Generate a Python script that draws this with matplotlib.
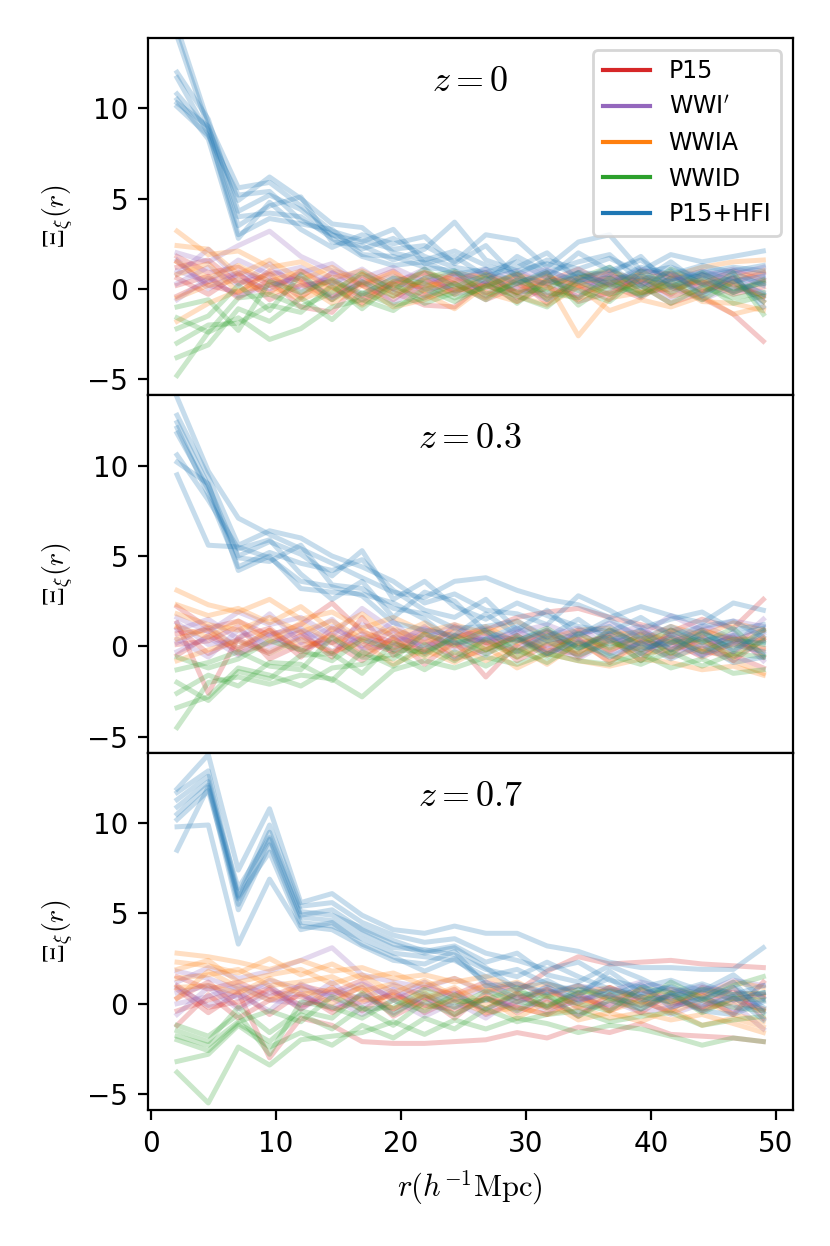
import matplotlib
matplotlib.use("Agg")
from matplotlib import pyplot as plt
from matplotlib.lines import Line2D

plt.rcParams['mathtext.fontset'] = 'cm'

# separation bins (h^-1 Mpc)
r_vals = [2.1, 4.6, 7.0, 9.5, 12.0, 14.5, 16.9, 19.4, 21.9, 24.3,
          26.8, 29.3, 31.7, 34.2, 36.7, 39.2, 41.6, 44.1, 46.6, 49.0]

models = ["P15", "WWI$'$", "WWIA", "WWID", "P15+HFI"]
colors = ["tab:red", "tab:purple", "tab:orange", "tab:green", "tab:blue"]
redshift_labels = ["$z=0$", "$z=0.3$", "$z=0.7$"]

# ---- z = 0 ----
p15_z0 = [
    [1.8, 0.9, 1.2, 0.2, 0.6, -0.4, 0.3, 1.0, -0.2, 0.5, 0.9, -0.3, 0.4, 1.1, 0.2, -0.5, 0.6, 0.3, 1.0, 0.5],
    [1.2, 1.6, 0.3, 0.8, -0.5, 0.9, 0.2, -0.6, 0.6, -0.1, 0.2, 0.8, -0.4, 0.1, 0.7, 0.4, -0.3, 0.8, 0.2, -0.4],
    [0.6, -0.3, 0.8, -0.2, 1.0, 0.1, -0.8, 0.4, 0.9, 0.3, -0.6, 0.1, 0.9, -0.7, -0.2, 0.5, 0.2, -0.5, -1.4, -2.9],
    [0.2, 0.7, -0.5, 0.5, -1.0, -1.3, 0.5, -0.2, -0.9, -1.0, 0.4, -0.2, 0.6, 0.2, -0.6, 1.0, 0.8, -0.1, 0.4, 0.9],
    [-0.4, 0.4, 0.9, -0.6, 0.2, 0.4, -0.4, 0.3, 0.1, 0.8, -0.2, 0.5, -0.8, 0.6, 0.9, -0.2, 0.0, 0.4, -0.3, 0.1],
    [1.5, 0.2, -0.2, 1.0, 0.4, -0.6, 0.8, 0.0, -0.5, 0.0, 0.3, -0.7, 0.1, -0.4, 0.4, 0.2, -0.8, -0.2, 0.6, -0.7],
]
wwi_z0 = [
    [2.0, 1.5, 2.4, 3.2, 1.8, 1.0, 0.6, 1.2, 0.4, 0.9, 0.2, 0.7, 1.1, 0.3, 0.6, 0.1, 0.5, 1.0, 0.6, 0.3],
    [1.0, 0.4, 1.6, 0.8, 1.2, 0.3, 1.1, 0.0, 0.8, -0.2, 0.5, 1.0, 0.2, 0.7, -0.3, 0.8, 0.2, 0.4, -0.1, 0.6],
    [0.3, 1.2, 0.2, 1.4, -0.2, 0.9, -0.3, 0.6, -0.4, 0.4, 1.1, -0.5, 0.5, -0.1, 0.4, -0.4, 0.9, -0.2, 0.3, -0.2],
    [-0.6, 0.6, -0.4, 0.2, 0.7, -0.5, 0.4, -0.8, 0.3, 0.7, -0.4, 0.3, -0.6, 0.5, 0.1, 0.6, -0.5, 0.2, 0.8, 1.2],
    [1.6, 0.0, 0.9, 0.5, 0.1, 0.6, -0.6, 0.3, 1.1, -0.3, 0.1, 0.4, 0.8, -0.5, 1.0, 0.3, 0.1, -0.6, 0.1, -0.5],
    [0.8, 2.2, 0.5, 0.0, 0.9, 1.4, 0.2, 0.7, 0.0, 0.2, 0.7, 0.0, -0.3, 0.9, 0.2, 1.1, 0.6, 0.7, 1.1, 0.8],
]
wwia_z0 = [
    [3.2, 1.9, 2.1, 1.2, 1.5, 0.6, 1.0, 0.2, 0.9, 0.5, 0.1, 0.8, 0.3, 0.6, 1.0, 0.4, 0.7, 1.2, 1.5, 1.6],
    [2.4, 2.2, 0.8, 1.6, 0.5, 1.2, 0.2, 0.9, -0.1, 0.9, 0.6, -0.2, 0.7, 0.2, -0.3, 0.5, 0.9, 0.2, 0.6, 1.0],
    [1.5, 0.6, 1.3, 0.4, 1.0, -0.1, 0.8, -0.4, 0.5, -0.3, 0.8, 0.3, -0.5, 0.4, 0.6, -0.2, 0.1, 0.5, -0.2, 0.4],
    [0.8, 1.4, -0.2, 0.9, -0.4, 0.5, -0.6, 0.4, 0.2, 0.3, -0.5, 0.6, 0.1, -0.6, 0.3, 0.8, -0.4, -0.1, 0.3, -0.4],
    [-0.5, 0.2, 0.5, -0.3, 0.3, -0.8, 0.2, -1.0, -0.6, 0.0, -0.2, -0.7, 0.4, -2.6, -0.5, -0.2, 0.4, -0.7, -0.8, -1.2],
    [-1.8, -0.8, -0.1, 0.2, -0.6, 0.1, -0.9, 0.1, -0.3, -1.1, 0.2, -0.4, -0.9, 0.1, -1.2, -0.6, -1.0, -0.4, -1.4, -1.0],
]
wwid_z0 = [
    [-4.8, -2.4, -1.6, -2.8, -2.2, -1.0, -0.6, -1.2, 0.0, -0.7, 0.2, -0.4, -1.0, 0.4, -0.3, 0.2, -0.8, 0.1, -0.5, -0.2],
    [-3.8, -3.1, -1.1, -1.8, -0.5, -1.7, -0.2, -0.9, -0.5, 0.3, -0.6, 0.5, -0.2, -0.5, 0.6, -0.4, 0.3, -0.6, 0.4, -0.7],
    [-3.0, -2.0, -1.9, -0.9, -1.3, 0.2, -1.1, 0.3, -0.8, -0.2, 0.6, -0.8, 0.5, -0.1, -0.7, 0.7, -0.2, 0.6, -0.2, 0.5],
    [-2.2, -1.5, 0.2, -1.2, 0.8, -0.6, 0.4, -0.4, 0.6, 1.0, -0.3, 0.3, 0.9, -0.9, 0.3, -0.3, 0.6, -0.3, 0.9, -1.4],
    [-1.6, -2.4, -0.5, -0.3, -1.0, -0.2, 0.9, -0.1, 1.1, 0.1, 0.8, -0.2, 0.0, 0.9, 0.0, 1.0, 0.1, 0.9, 0.0, 0.3],
    [-1.0, -0.6, -2.3, 0.4, -0.2, 0.5, -0.3, 0.6, 0.3, -0.5, 0.1, 0.9, -0.6, 0.6, 1.2, -0.1, 1.1, 0.3, -0.8, -0.4],
]
hfi_z0 = [
    [14.5, 9.2, 5.6, 5.9, 4.6, 3.2, 2.7, 2.2, 2.4, 1.5, 3.0, 2.7, 1.2, 2.6, 3.0, 1.0, 1.9, 1.5, 1.8, 2.1],
    [14.0, 8.9, 4.9, 6.2, 5.0, 3.6, 3.4, 2.0, 1.6, 2.1, 1.3, 0.8, 1.6, 1.1, 1.7, 0.9, 1.2, 0.6, 1.0, 1.3],
    [12.0, 9.4, 4.3, 5.2, 4.4, 3.0, 2.2, 2.8, 1.8, 1.2, 0.9, 1.5, 0.6, 2.0, 1.0, 1.6, 0.5, 1.0, 0.4, 0.7],
    [11.7, 8.6, 3.5, 4.6, 5.1, 2.6, 2.4, 1.6, 2.2, 3.7, 1.6, 1.0, 1.4, 0.8, 0.3, 1.2, 0.8, 1.3, 0.9, 0.2],
    [10.8, 8.8, 3.0, 3.9, 3.6, 3.3, 1.9, 1.8, 1.2, 1.0, 0.4, 1.8, 0.9, 1.5, 1.9, 0.4, 1.5, 0.2, 0.6, -0.3],
    [10.5, 8.3, 2.8, 4.8, 3.3, 2.3, 3.0, 2.5, 2.9, 1.4, 2.4, 0.6, 0.3, 0.9, 0.8, 1.8, 0.1, 0.8, -0.2, 0.4],
    [10.3, 9.0, 4.0, 4.2, 4.0, 2.8, 1.8, 1.3, 1.5, 0.8, 1.1, 0.3, 1.0, 0.4, 1.2, 0.2, 1.0, -0.4, 0.7, -1.0],
    [10.1, 8.5, 5.2, 5.4, 3.8, 3.0, 2.6, 3.3, 1.4, 1.8, 0.7, 1.2, 2.0, 0.5, 0.6, 0.7, 0.4, 0.9, 1.2, 1.0],
]

# ---- z = 0.3 ----
p15_z03 = [
    [2.2, 1.0, 1.4, 0.6, 1.2, 2.4, 0.8, 0.2, 1.0, 0.5, 0.9, 1.6, 1.9, 2.1, 1.6, 1.2, 0.8, 1.5, 1.0, 2.6],
    [1.3, -2.6, 0.5, 1.0, -0.3, 0.7, -0.2, 0.9, -0.4, 0.6, 0.2, -0.3, 0.5, 0.0, 0.6, -0.2, 0.3, -0.6, 0.2, -0.1],
    [0.7, 0.9, -0.4, 0.2, 0.8, -0.6, 1.6, -0.5, 0.4, -0.7, -0.2, 0.6, -0.5, 0.8, -0.3, 0.7, -0.4, 0.6, -0.8, 0.4],
    [0.1, 0.3, 1.1, -0.7, 0.1, 0.2, -0.8, 0.5, -1.0, 0.3, -1.7, 0.1, 0.9, -0.6, 0.4, -0.8, 0.9, 0.0, 0.5, -0.6],
    [-0.5, 0.6, -0.2, 0.9, -0.6, 1.0, 0.3, -0.3, 0.7, 0.0, 0.8, -0.8, 0.1, 0.4, -0.9, 0.3, -0.1, 0.9, 0.3, 0.9],
    [1.0, -0.4, 0.4, -0.3, 0.6, -0.4, 0.5, 0.1, -0.2, 1.1, 0.2, 0.4, -0.2, -0.4, 0.9, 0.1, 0.5, -0.3, -0.5, -1.2],
]
wwi_z03 = [
    [1.6, 0.8, 1.9, 1.2, 1.6, 0.6, 2.1, 0.9, 0.4, 1.2, 0.3, 0.8, 1.2, 0.5, 1.3, 0.6, 1.7, 0.9, 1.4, 1.1],
    [0.9, 1.5, 0.4, 1.8, 0.2, 1.1, 0.0, 1.4, -0.3, 0.5, 1.0, -0.1, 0.6, 1.0, 0.0, 0.9, 0.2, 1.2, 0.4, 0.3],
    [0.4, -0.6, 0.9, 0.0, 1.0, -0.3, 0.7, -0.2, 0.8, -0.6, 0.5, 0.4, -0.4, 0.2, 0.5, -0.5, 0.7, -0.2, 0.6, -0.4],
    [-0.3, 0.5, -0.5, 0.6, -0.2, 0.4, -0.5, 0.5, 0.1, 0.2, -0.5, 0.8, 0.1, -0.7, 0.3, 0.4, -0.6, 0.5, -0.3, 0.7],
    [1.3, 0.1, 0.3, -0.4, 0.5, 1.5, -0.1, 0.0, 1.1, -0.2, 0.6, -0.3, 0.8, 0.4, -0.4, 0.2, 0.1, -0.5, 0.8, -0.8],
    [0.2, 1.1, -0.1, 0.7, 0.9, 0.2, 1.2, 0.6, 0.0, 0.8, 0.1, 1.0, -0.2, 0.9, 0.7, 1.1, -0.2, 0.4, 0.0, 1.5],
]
wwia_z03 = [
    [3.1, 2.3, 1.9, 2.6, 1.5, 1.9, 1.0, 1.6, 0.8, 1.2, 0.7, 1.4, 0.4, 0.9, 1.0, 0.3, 1.1, 0.6, 1.3, 0.9],
    [2.3, 1.7, 2.1, 1.3, 2.2, 0.9, 1.8, 0.5, 1.3, 0.4, 1.1, 0.2, 0.8, 0.1, 0.6, 0.8, 0.2, 0.9, 0.4, 0.4],
    [1.8, 1.2, 0.9, 1.6, 0.8, 1.4, 0.4, 1.0, 0.2, 0.9, -0.2, 0.6, -0.3, 0.5, -0.2, 0.4, 0.6, -0.3, 0.1, -0.2],
    [1.1, 0.5, 1.4, 0.3, 1.3, 0.2, 0.9, -0.1, 0.7, -0.5, 0.3, -0.6, 0.2, -0.3, 0.3, -0.4, -0.2, 0.3, -0.5, 0.5],
    [0.4, 1.0, -0.1, 0.9, -0.2, 0.6, -0.5, 0.4, -0.6, 0.1, -0.8, 0.0, -1.0, 0.2, -0.8, 0.0, -0.6, -0.1, -0.8, -1.5],
    [-0.8, -0.2, 0.3, -0.4, 0.4, -0.3, 0.2, -1.0, -0.2, -0.9, 0.0, -1.2, -0.4, -0.8, -1.1, -0.7, -0.9, -1.3, -1.1, -1.6],
]
wwid_z03 = [
    [-4.5, -2.0, -1.7, -2.1, -1.6, -1.8, -2.8, -1.3, -0.8, -1.2, -0.6, -1.0, -0.4, -0.8, -1.0, -0.4, -1.2, -0.7, -1.5, -1.3],
    [-3.4, -2.8, -1.2, -1.6, -2.2, -1.2, -1.0, -0.4, -1.3, -0.3, -1.1, -0.2, -0.9, 0.2, -0.5, -1.0, -0.3, -1.1, -0.4, -0.6],
    [-2.6, -1.6, -2.2, -0.9, -1.0, -1.9, -0.3, -1.1, 0.1, -0.8, 0.4, -0.6, 0.3, -0.5, 0.2, -0.2, 0.4, -0.3, 0.4, 0.1],
    [-2.0, -3.0, -1.4, -1.8, -0.5, -0.4, -1.5, 0.2, -0.5, 0.6, -0.2, 0.5, -0.6, 0.7, -0.1, 0.6, -0.4, 0.8, -0.2, 0.9],
    [-1.3, -0.9, -0.3, -1.1, -1.3, 0.5, -0.6, -0.7, 0.7, 0.1, 0.9, -0.3, 0.6, -0.2, 0.9, 0.1, 0.9, 0.2, 1.0, -0.5],
    [-0.6, -1.2, -0.7, 0.3, -0.2, -0.8, 0.4, -0.2, -0.3, 0.4, -0.4, 0.3, 1.0, -0.1, 0.5, -0.8, 0.2, 0.4, -0.6, 0.3],
]
hfi_z03 = [
    [13.8, 9.7, 7.1, 6.2, 5.4, 4.6, 3.8, 3.0, 2.7, 3.6, 3.8, 3.1, 2.6, 2.3, 1.6, 2.2, 1.7, 1.3, 2.4, 2.0],
    [12.8, 9.4, 5.6, 6.4, 6.0, 5.0, 4.4, 3.6, 2.4, 2.9, 2.0, 1.8, 1.2, 2.8, 2.0, 1.0, 1.5, 1.9, 0.9, 1.2],
    [12.4, 8.9, 5.0, 5.8, 5.1, 3.9, 5.3, 2.6, 3.6, 2.2, 1.5, 2.4, 1.7, 1.1, 0.8, 1.6, 0.6, 1.1, 1.4, 0.5],
    [12.1, 8.4, 4.4, 5.2, 4.6, 4.2, 4.8, 3.1, 2.0, 1.6, 2.6, 0.9, 2.0, 0.6, 1.5, 0.4, 1.1, 0.3, 0.6, 1.0],
    [11.8, 8.7, 4.9, 4.7, 5.6, 3.4, 3.2, 2.1, 1.8, 1.0, 1.1, 1.4, 0.5, 1.5, 0.3, 0.9, -0.2, 0.7, 0.1, -0.3],
    [10.6, 8.1, 5.4, 5.9, 4.0, 2.6, 3.6, 1.6, 3.0, 2.5, 0.8, 0.3, 0.9, -0.1, 0.7, -0.4, 0.6, -0.5, 0.3, 0.2],
    [9.5, 5.6, 5.5, 4.9, 3.6, 3.3, 2.8, 1.3, 0.9, 0.6, 1.8, 0.6, -0.4, 0.3, -0.6, 0.2, -0.7, 0.1, -0.9, -0.6],
    [10.2, 9.0, 4.2, 5.0, 3.2, 3.0, 2.9, 2.4, 1.5, 0.2, 0.4, 1.1, 0.3, 0.7, 1.1, -0.1, 0.2, 0.9, -0.3, 0.8],
]

# ---- z = 0.7 ----
p15_z07 = [
    [1.5, 0.8, 1.2, 0.4, 1.0, 0.6, 1.3, 0.2, 0.9, 0.5, 1.2, 0.7, 1.8, 2.6, 2.2, 2.3, 2.4, 2.2, 2.1, 2.0],
    [0.8, -0.5, 0.6, -3.0, -0.8, -1.2, -2.1, -2.2, -2.2, -2.1, -2.0, -1.6, -1.9, -1.3, -1.6, -1.1, -1.7, -1.8, -1.9, -2.1],
    [0.3, 1.2, -0.2, 0.8, -0.3, 0.9, -0.4, 0.7, -0.5, 0.3, -0.3, 0.5, -0.2, 0.6, -0.4, 0.4, -0.1, 0.5, -0.6, 1.2],
    [-0.4, 0.2, 0.7, -0.6, 0.6, -0.5, 0.5, -0.3, 0.4, -0.8, 0.6, -0.5, 0.3, -0.7, 0.5, -0.5, 0.6, -0.4, 0.3, -0.4],
    [1.0, -0.2, 0.1, 0.9, -0.1, 0.3, 0.9, -0.7, 0.2, 0.8, -0.6, 0.1, 0.8, 0.0, 0.9, 0.1, -0.4, 0.9, 0.6, 0.5],
    [-1.2, 0.5, -0.8, 0.2, 0.4, -0.3, 0.1, 0.5, -0.1, -0.3, 0.3, -0.2, -0.6, 0.3, -0.1, 0.8, 0.2, -0.2, 0.9, -0.8],
]
wwi_z07 = [
    [1.2, 2.0, 1.4, 1.8, 2.4, 3.1, 1.6, 1.2, 0.9, 1.4, 0.6, 1.1, 0.5, 1.0, 0.7, 1.2, 0.8, 0.6, 1.3, 1.0],
    [0.6, 1.0, 0.3, 1.3, 0.8, 0.5, 1.1, 0.3, 1.2, 0.2, 0.9, 0.1, 0.7, 0.3, 0.4, -0.1, 0.5, 1.0, 0.2, 0.6],
    [0.0, 0.4, 1.0, 0.2, 0.0, 1.2, -0.2, 0.8, -0.1, 0.6, -0.4, 0.6, -0.5, 0.5, -0.3, 0.6, 0.1, -0.3, 0.5, -0.3],
    [-0.6, 0.9, -0.3, 0.6, 0.5, -0.2, 0.5, -0.5, 0.4, -0.6, 0.3, -0.3, 0.2, -0.6, 0.2, -0.5, -0.2, 0.3, -0.5, 0.2],
    [0.9, -0.1, 0.5, -0.4, 1.1, 0.3, -0.6, 0.2, -0.7, 0.1, -0.8, 0.4, -0.2, 0.1, 0.9, 0.3, -0.6, 0.0, 0.0, -1.4],
    [1.8, 1.4, 0.8, 1.0, -0.3, 0.7, 0.3, 1.0, 0.5, -0.2, 0.2, -0.1, 1.0, -0.3, 0.0, 1.0, 0.3, 0.7, -0.3, 0.4],
]
wwia_z07 = [
    [2.8, 2.6, 2.3, 1.9, 2.4, 1.8, 2.0, 1.4, 1.6, 1.2, 1.5, 0.9, 1.1, 0.6, 0.9, 0.3, 0.8, 0.4, 1.2, 0.9],
    [2.3, 2.1, 1.7, 2.5, 1.6, 2.2, 1.4, 1.7, 1.0, 1.4, 0.7, 1.2, 0.4, 1.0, 0.2, 0.8, 0.0, 0.6, 0.3, 0.4],
    [1.9, 2.4, 1.2, 1.6, 1.9, 1.1, 1.6, 0.6, 1.3, 0.4, 1.0, 0.3, 0.8, -0.2, 0.5, -0.1, 0.4, -0.3, 0.1, -0.3],
    [1.4, 1.6, 1.9, 1.0, 1.2, 1.5, 0.7, 1.1, 0.3, 0.9, -0.1, 0.6, -0.3, 0.4, -0.4, 0.2, -0.5, 0.2, -0.6, -1.0],
    [0.9, 1.0, 0.6, 1.4, 0.5, 0.8, 0.2, 0.4, -0.2, 0.2, -0.5, -0.2, -0.6, -0.2, -0.8, -0.5, -0.9, -0.6, -1.1, -1.6],
    [0.3, 1.8, 0.9, 0.2, 0.9, 0.0, 1.0, -0.3, 0.6, -0.6, 0.4, -0.8, 0.1, -0.9, -0.5, -1.0, -0.3, -1.2, -0.8, -1.3],
]
wwid_z07 = [
    [-3.8, -5.5, -2.4, -3.4, -2.0, -1.8, -1.6, -1.0, -1.7, -0.9, -1.4, -0.8, -1.1, -1.6, -1.2, -1.4, -1.8, -2.3, -1.9, -2.1],
    [-3.2, -2.8, -1.2, -2.4, -1.6, -2.3, -1.2, -1.9, -0.8, -1.4, -0.3, -1.0, -0.6, -0.4, -1.0, -0.7, -0.5, -1.2, -0.9, -0.7],
    [-2.0, -2.6, -1.1, -2.1, -0.6, -1.4, -0.2, -1.2, 0.1, -0.6, 0.3, -0.4, 0.5, -0.7, 0.2, -0.3, 0.6, -0.5, 0.3, 0.2],
    [-1.5, -2.1, -0.2, -1.6, -0.4, -0.8, 0.6, -0.6, 0.5, -0.2, 0.7, 0.1, -0.1, 0.6, 0.7, 0.4, 0.1, 0.8, 0.5, 0.6],
    [-1.2, -1.8, -0.6, -2.8, 0.1, -0.2, -0.8, 0.2, -0.4, 0.5, -0.3, 0.6, 0.4, 0.0, -0.4, 0.9, 0.6, 0.2, 1.0, 1.5],
    [-1.8, -2.3, -1.0, -0.4, -1.0, 0.4, -0.3, -0.2, 0.8, 0.1, 0.2, 0.9, -0.2, 0.8, 0.3, 0.0, 1.2, 0.3, -0.2, -0.4],
]
hfi_z07 = [
    [11.9, 13.8, 7.4, 10.8, 5.6, 6.1, 4.9, 4.1, 3.9, 4.3, 3.9, 3.9, 3.2, 2.9, 2.3, 2.0, 2.0, 1.9, 1.9, 3.1],
    [11.7, 12.9, 6.0, 9.9, 5.4, 5.6, 4.5, 3.8, 3.4, 3.6, 2.8, 2.4, 1.9, 2.3, 1.3, 0.9, 1.3, 0.7, 1.6, 0.3],
    [11.3, 12.6, 5.8, 9.5, 5.1, 4.9, 4.2, 3.5, 2.9, 3.2, 2.3, 2.8, 1.6, 1.2, 2.1, 1.4, 0.6, 1.1, 0.5, 1.0],
    [10.9, 12.3, 5.5, 9.1, 4.8, 4.6, 3.9, 3.1, 3.0, 2.7, 1.9, 1.5, 2.3, 1.5, 0.8, 0.5, 1.0, 0.2, 0.9, -0.2],
    [10.5, 12.1, 5.2, 8.8, 4.5, 4.3, 3.6, 2.8, 2.6, 2.4, 1.5, 1.9, 1.1, 0.7, 1.4, 0.2, 0.4, 0.8, 0.2, 0.6],
    [10.2, 11.8, 5.9, 8.4, 4.3, 4.1, 3.2, 2.4, 2.2, 2.9, 1.0, 1.1, 0.6, 1.0, 0.4, 1.1, -0.2, 0.3, 1.2, -0.5],
    [9.8, 9.9, 3.3, 6.9, 4.1, 4.5, 3.3, 2.6, 1.8, 2.5, 1.2, 0.3, 0.9, 0.2, 0.6, -0.3, 0.5, -0.4, -0.6, 0.1],
    [8.5, 12.0, 6.4, 9.2, 4.9, 5.2, 4.1, 3.3, 2.8, 3.1, 2.0, 0.8, 1.3, 0.4, 1.8, 0.6, 0.9, -0.1, 0.4, -0.9],
]

panels = [
    [p15_z0, wwi_z0, wwia_z0, wwid_z0, hfi_z0],
    [p15_z03, wwi_z03, wwia_z03, wwid_z03, hfi_z03],
    [p15_z07, wwi_z07, wwia_z07, wwid_z07, hfi_z07],
]

fig, axes = plt.subplots(3, 1, figsize=(4.15, 6.23), dpi=200, sharex=True, sharey=True)
fig.subplots_adjust(left=0.178, right=0.955, top=0.9695, bottom=0.109, hspace=0)

for ax, panel, zlab in zip(axes, panels, redshift_labels):
    for runs, c in zip(panel, colors):
        for y in runs:
            ax.plot(r_vals, y, color=c, alpha=0.25, lw=1.8)
    ax.text(0.5, 0.88, zlab, transform=ax.transAxes, ha='center', va='center', fontsize=13)
    ax.set_ylabel(r'$\Xi_\xi(r)$', fontsize=10)
    ax.set_yticks([-5, 0, 5, 10])

axes[0].set_ylim(-5.9, 13.9)
for ax in axes[:2]:
    ax.tick_params(axis='x', bottom=False, labelbottom=False)
axes[2].set_xticks([0, 10, 20, 30, 40, 50])
axes[2].set_xlabel(r'$r(h^{-1}\mathrm{Mpc})$', fontsize=11)

handles = [Line2D([], [], color=c, lw=1.5) for c in colors]
axes[0].legend(handles, models, loc='upper right', fontsize=8.5)

fig.savefig('out.png', dpi=200)
